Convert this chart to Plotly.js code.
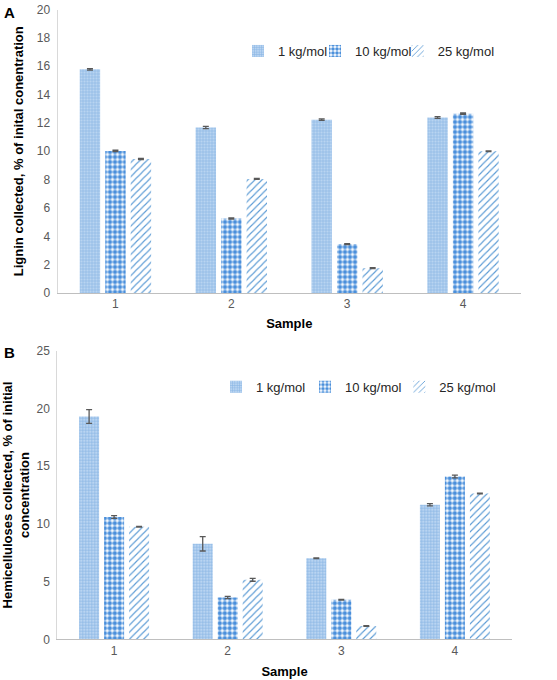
<!DOCTYPE html>
<html>
<head>
<meta charset="utf-8">
<script src="https://cdn.plot.ly/plotly-3.0.1.min.js"></script>
<style>html,body{margin:0;padding:0;background:#fff;}#chart{width:557px;height:680px;}</style>
</head>
<body>
<div id="chart"></div>
<script>
// Categories
const samples = ["1", "2", "3", "4"];
const seriesNames = ["1 kg/mol", "10 kg/mol", "25 kg/mol"];

// Panel A: Lignin collected, % of initial concentration
const ligninA_1kg = [15.78, 11.67, 12.23, 12.38];
const ligninA_10kg = [10.02, 5.25, 3.45, 12.65];
const ligninA_25kg = [9.45, 8.05, 1.75, 10.0];
const ligninErr_1kg = [0.05, 0.08, 0.05, 0.06];
const ligninErr_10kg = [0.05, 0.04, 0.04, 0.05];
const ligninErr_25kg = [0.04, 0.04, 0.03, 0.03];

// Panel B: Hemicelluloses collected, % of initial concentration
const hemiB_1kg = [19.3, 8.27, 7.02, 11.65];
const hemiB_10kg = [10.6, 3.62, 3.42, 14.1];
const hemiB_25kg = [9.75, 5.15, 1.15, 12.62];
const hemiErr_1kg = [0.6, 0.62, 0.03, 0.1];
const hemiErr_10kg = [0.12, 0.1, 0.03, 0.12];
const hemiErr_25kg = [0.03, 0.12, 0.03, 0.03];

const yTicksA = [0, 2, 4, 6, 8, 10, 12, 14, 16, 18, 20];
const yTicksB = [0, 5, 10, 15, 20, 25];

const W = 557, H = 680;
const px = v => v / W;
const py = v => 1 - v / H;

const patterns = [
  {shape: "+", fgcolor: "#86b3e3", bgcolor: "#b9d4f1", size: 3, solidity: 0.35},
  {shape: ".", fgcolor: "#4a8fdb", bgcolor: "#ffffff", size: 5, solidity: 0.62},
  {shape: "/", fgcolor: "#5b9bd5", bgcolor: "#ffffff", size: 5, solidity: 0.22}
];

function err(arr) {
  return {type: "data", array: arr, visible: true, color: "#595959", thickness: 1.3, width: 3};
}

const dataA = [ligninA_1kg, ligninA_10kg, ligninA_25kg];
const errA = [ligninErr_1kg, ligninErr_10kg, ligninErr_25kg];
const dataB = [hemiB_1kg, hemiB_10kg, hemiB_25kg];
const errB = [hemiErr_1kg, hemiErr_10kg, hemiErr_25kg];

const legendIdsA = ["legend", "legend2", "legend3"];
const legendIdsB = ["legend4", "legend5", "legend6"];

const traces = [];
for (let i = 0; i < 3; i++) {
  traces.push({
    type: "bar", x: samples, y: dataA[i], name: seriesNames[i],
    xaxis: "x", yaxis: "y", legend: legendIdsA[i],
    marker: {color: patterns[i].bgcolor, pattern: patterns[i], line: {width: 0}},
    error_y: err(errA[i])
  });
}
for (let i = 0; i < 3; i++) {
  traces.push({
    type: "bar", x: samples, y: dataB[i], name: seriesNames[i],
    xaxis: "x2", yaxis: "y2", legend: legendIdsB[i],
    marker: {color: patterns[i].bgcolor, pattern: patterns[i], line: {width: 0}},
    error_y: err(errB[i])
  });
}

const tickFont = {family: "Liberation Sans, Arial, sans-serif", size: 12, color: "#595959"};
const titleFont = {family: "Liberation Sans, Arial, sans-serif", size: 13, color: "#000000", weight: "bold"};
const legendFont = {family: "Liberation Sans, Arial, sans-serif", size: 13, color: "#262626"};

function mkLegend(textStartX, centerY) {
  return {
    orientation: "h", x: px(textStartX - 40), xanchor: "left", y: py(centerY), yanchor: "middle",
    font: legendFont, bgcolor: "rgba(0,0,0,0)", itemwidth: 30
  };
}

const layout = {
  width: W, height: H,
  margin: {l: 0, r: 0, t: 0, b: 0},
  paper_bgcolor: "#ffffff", plot_bgcolor: "#ffffff",
  barmode: "group", bargap: 0.34, bargroupgap: 0.2,
  font: {family: "Liberation Sans, Arial, sans-serif"},
  xaxis: {
    domain: [px(57.5), px(521)], anchor: "y",
    showline: true, linecolor: "#bfbfbf", linewidth: 1,
    showgrid: false, ticks: "", tickfont: tickFont, zeroline: false,
    title: {text: "Sample", font: titleFont, standoff: 8}
  },
  yaxis: {
    domain: [py(293), py(9.5)], anchor: "x",
    range: [0, 20], tickvals: yTicksA, ticktext: yTicksA.map(String),
    showline: true, linecolor: "#d9d9d9", linewidth: 1,
    showgrid: false, zeroline: false, ticks: "", tickfont: tickFont,
    ticklabelstandoff: 4,
    title: {text: "Lignin collected, % of inital conentration", font: titleFont, standoff: 10}
  },
  xaxis2: {
    domain: [px(57.3), px(511.7)], anchor: "y2",
    showline: true, linecolor: "#bfbfbf", linewidth: 1,
    showgrid: false, ticks: "", tickfont: tickFont, zeroline: false,
    title: {text: "Sample", font: titleFont, standoff: 10}
  },
  yaxis2: {
    domain: [py(639.3), py(350.7)], anchor: "x2",
    range: [0, 25], tickvals: yTicksB, ticktext: yTicksB.map(String),
    showline: true, linecolor: "#d9d9d9", linewidth: 1,
    showgrid: false, zeroline: false, ticks: "", tickfont: tickFont,
    ticklabelstandoff: 4,
    title: {text: "Hemicelluloses collected, % of initial<br>concentration", font: titleFont, standoff: 8}
  },
  legend: mkLegend(278, 51),
  legend2: mkLegend(355, 51),
  legend3: mkLegend(437.7, 51),
  legend4: mkLegend(256, 386.7),
  legend5: mkLegend(345, 386.7),
  legend6: mkLegend(439.3, 386.7),
  annotations: [
    {text: "A", x: px(2), y: py(2), xref: "paper", yref: "paper", xanchor: "left", yanchor: "top",
     showarrow: false, font: {family: "Liberation Sans, Arial, sans-serif", size: 15, color: "#000", weight: "bold"}},
    {text: "B", x: px(2), y: py(342), xref: "paper", yref: "paper", xanchor: "left", yanchor: "top",
     showarrow: false, font: {family: "Liberation Sans, Arial, sans-serif", size: 15, color: "#000", weight: "bold"}}
  ],
  showlegend: true
};

Plotly.newPlot("chart", traces, layout, {displayModeBar: false, staticPlot: true});
</script>
</body>
</html>
